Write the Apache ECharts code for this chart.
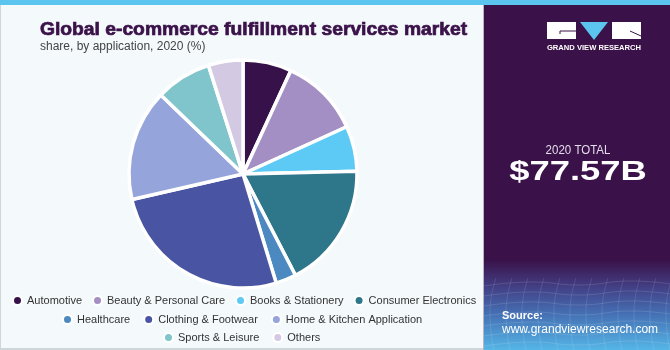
<!DOCTYPE html>
<html>
<head>
<meta charset="utf-8">
<script src="https://cdn.jsdelivr.net/npm/echarts@6/dist/echarts.min.js"></script>
<style>
  html, body { margin: 0; padding: 0; background: #f4f9fc; }
  #chart { width: 670px; height: 350px; }
</style>
</head>
<body>
<div id="chart"></div>
<script>
// Application segments and their market share (%), 2020
const categories = [
  'Automotive', 'Beauty & Personal Care', 'Books & Stationery', 'Consumer Electronics',
  'Healthcare', 'Clothing & Footwear', 'Home & Kitchen Application', 'Sports & Leisure', 'Others'
];
const shares = [6.9, 11.3, 6.4, 17.8, 2.9, 26.1, 15.8, 7.9, 4.9];
const colors = ['#37124a', '#a48fc4', '#5ccaf5', '#2e7689', '#4b89c0', '#4955a2', '#95a4da', '#80c4cc', '#d3c9e3'];
const legendRows = [
  categories.slice(0, 4),
  categories.slice(4, 7),
  categories.slice(7)
];

const chart = echarts.init(document.getElementById('chart'), null, { renderer: 'canvas' });

const legendBase = {
  orient: 'horizontal',
  padding: 0,
  icon: 'circle',
  itemWidth: 9,
  itemHeight: 9,
  itemGap: 10,
  selectedMode: false,
  textStyle: { fontFamily: 'Liberation Sans', fontSize: 11, color: '#333' }
};

// faint mesh in the source box
const mesh = [];
for (let i = 0; i < 7; i++) {
  const y = 282 + i * 10;
  mesh.push({
    type: 'polyline', silent: true,
    shape: { points: [[484, y + 4], [530, y], [580, y + 3], [630, y - 1], [670, y + 2]], smooth: 0.5 },
    style: { stroke: 'rgba(255,255,255,0.12)', lineWidth: 1, fill: null }
  });
}
for (let j = 0; j < 12; j++) {
  const x = 490 + j * 16;
  mesh.push({
    type: 'polyline', silent: true,
    shape: { points: [[x + 6, 278], [x, 310], [x + 4, 350]], smooth: 0.5 },
    style: { stroke: 'rgba(255,255,255,0.11)', lineWidth: 1, fill: null }
  });
}

chart.setOption({
  backgroundColor: '#f4f9fc',
  color: colors,
  animation: false,
  legend: [
    Object.assign({}, legendBase, { data: legendRows[0], top: 295, left: 12 }),
    Object.assign({}, legendBase, { data: legendRows[1], top: 314, left: 62, itemGap: 13 }),
    Object.assign({}, legendBase, { data: legendRows[2], top: 332, left: 163, itemGap: 13 })
  ],
  graphic: [
    // right-hand panel
    { type: 'rect', shape: { x: 484, y: 0, width: 186, height: 350 }, style: { fill: '#3a1249' }, silent: true },
    {
      type: 'rect', shape: { x: 484, y: 260, width: 186, height: 90 },
      style: {
        fill: new echarts.graphic.LinearGradient(0, 0, 0, 1, [
          { offset: 0, color: '#3a1249' },
          { offset: 0.3, color: '#433f85' },
          { offset: 0.6, color: '#4570b4' },
          { offset: 1, color: '#55b6e6' }
        ])
      },
      silent: true
    }
  ].concat(mesh).concat([
    // top accent bar
    { type: 'rect', shape: { x: 0, y: 0, width: 670, height: 5 }, style: { fill: '#5cc5ef' }, silent: true },
    // frame lines
    { type: 'rect', shape: { x: 0, y: 5, width: 1, height: 345 }, style: { fill: '#cfd6da' }, silent: true },
    { type: 'rect', shape: { x: 0, y: 348, width: 484, height: 2 }, style: { fill: '#cfd6da' }, silent: true },
    { type: 'rect', shape: { x: 483, y: 5, width: 1, height: 345 }, style: { fill: '#b9b3c0' }, silent: true },
    // logo blocks
    { type: 'rect', shape: { x: 547, y: 22, width: 29, height: 17 }, style: { fill: '#ffffff' }, silent: true },
    { type: 'polyline', shape: { points: [[560, 34], [560, 31], [576, 31]] }, style: { stroke: '#3a1249', lineWidth: 1, fill: null }, silent: true },
    { type: 'polygon', shape: { points: [[580, 22], [608, 22], [594, 40]] }, style: { fill: '#5cc5ef' }, silent: true },
    { type: 'rect', shape: { x: 612, y: 22, width: 29, height: 17 }, style: { fill: '#ffffff' }, silent: true },
    { type: 'polyline', shape: { points: [[630, 31], [641, 36]] }, style: { stroke: '#3a1249', lineWidth: 1, fill: null }, silent: true },
    {
      type: 'text', x: 594, y: 48,
      style: { text: 'GRAND VIEW RESEARCH', fill: '#ffffff', font: 'bold 7.6px "Liberation Sans"', align: 'center', verticalAlign: 'middle' }, silent: true
    },
    // totals
    {
      type: 'text', x: 578, y: 151, scaleX: 0.92,
      style: { text: '2020 TOTAL', fill: '#e3dcea', font: '12.5px "Liberation Sans"', align: 'center', verticalAlign: 'middle' }, silent: true
    },
    {
      type: 'text', x: 578, y: 172, scaleX: 1.3,
      style: {
        text: '$77.57B', fill: '#ffffff', font: 'bold 28px "Liberation Sans"', align: 'center', verticalAlign: 'middle',
        stroke: 'none', lineWidth: 0
      }, silent: true
    },
    // source
    {
      type: 'text', x: 502, y: 316,
      style: { text: 'Source:', fill: '#ffffff', font: 'bold 11px "Liberation Sans"', verticalAlign: 'middle' }, silent: true
    },
    {
      type: 'text', x: 502, y: 330,
      style: { text: 'www.grandviewresearch.com', fill: '#ffffff', font: '12px "Liberation Sans"', verticalAlign: 'middle' }, silent: true
    },
    // titles
    {
      type: 'text', x: 40, y: 30, scaleX: 1.07,
      style: {
        text: 'Global e-commerce fulfillment services market', fill: '#3a1249', font: 'bold 18px "Liberation Sans"',
        verticalAlign: 'middle', stroke: '#3a1249', lineWidth: 0.7
      }, silent: true
    },
    {
      type: 'text', x: 40, y: 47,
      style: { text: 'share, by application, 2020 (%)', fill: '#444444', font: '12px "Liberation Sans"', verticalAlign: 'middle' }, silent: true
    }
  ]),
  series: [{
    type: 'pie',
    center: [243, 174],
    radius: [0, 114],
    startAngle: 90,
    clockwise: true,
    label: { show: false },
    labelLine: { show: false },
    emphasis: { disabled: true },
    itemStyle: { borderColor: '#ffffff', borderWidth: 3.5 },
    data: categories.map((name, i) => ({ name: name, value: shares[i] }))
  }]
});
</script>
</body>
</html>
